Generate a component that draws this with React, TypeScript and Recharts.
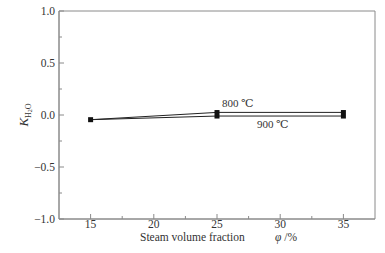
import React from 'react';
import { LineChart, Line, XAxis, YAxis, ReferenceArea } from 'recharts';

const fractions = [15, 25, 35];
const k800 = [-0.045, 0.025, 0.025];
const k900 = [-0.045, -0.01, -0.01];
const xTicks = [15, 17.5, 20, 22.5, 25, 27.5, 30, 32.5, 35];
const yTicks = [-1, -0.75, -0.5, -0.25, 0, 0.25, 0.5, 0.75, 1];

const data = fractions.map((f, i) => ({ f, k800: k800[i], k900: k900[i] }));

const FONT = "'Liberation Serif', 'DejaVu Serif', serif";
const AXIS = '#8a8a8a';
const TEXT = '#333';
const txtStyle = { fontFamily: FONT, fontSize: 11.5, fill: TEXT };

// axis sits at y = 219 (bottom of plot)
const XTick = (props: any) => {
  const { x, payload } = props;
  const y = 219;
  const major = payload.value % 5 === 0;
  return (
    <g>
      <line x1={x} x2={x} y1={y} y2={y - (major ? 5 : 3)} stroke={AXIS} />
      {major && (
        <text x={x} y={y + 9} textAnchor="middle" style={txtStyle}>
          {payload.value}
        </text>
      )}
    </g>
  );
};

const YTick = (props: any) => {
  const { y, payload } = props;
  const x = 59;
  const v = payload.value;
  const major = Math.abs(v * 2 - Math.round(v * 2)) < 1e-6;
  const txt = v < 0 ? '\u2212' + Math.abs(v).toFixed(1) : v.toFixed(1);
  return (
    <g>
      <line x1={x} x2={x + (major ? 5 : 3)} y1={y} y2={y} stroke={AXIS} />
      {major && (
        <text x={x - 4} y={y + 4} textAnchor="end" style={txtStyle}>
          {txt}
        </text>
      )}
    </g>
  );
};

const seriesLabel = (text: string, dy: number, dx: number) => (props: any) => {
  const { x, y, index } = props;
  if (index !== 1) return null;
  return (
    <text x={x + dx} y={y + dy} style={{ ...txtStyle, fontSize: 11 }}>
      {text}
    </text>
  );
};

const YLabel = () => (
  <text x={0} y={0} transform="translate(28,115) rotate(-90)" textAnchor="middle" style={txtStyle}>
    <tspan fontStyle="italic" fontSize={13}>K</tspan>
    <tspan fontSize={8} dy={3}>H</tspan>
    <tspan fontSize={6} dy={1}>2</tspan>
    <tspan fontSize={8} dy={-1}>O</tspan>
  </text>
);

const XLabel = () => (
  <text y={241} style={txtStyle}>
    <tspan x={140}>Steam volume fraction</tspan>
    <tspan x={275} fontStyle="italic">{'\u03c6'}</tspan>
    <tspan> /%</tspan>
  </text>
);

export default function App() {
  return (
    <div style={{ position: 'fixed', left: 0, top: 0, background: '#fff' }}>
      <LineChart width={385} height={253} data={data} margin={{ top: 11, right: 10, bottom: 0, left: 19 }}>
        <XAxis
          dataKey="f"
          type="number"
          domain={[12.5, 37.5]}
          ticks={xTicks}
          interval={0}
          height={34}
          tickSize={0}
          tickMargin={0}
          axisLine={{ stroke: AXIS }}
          tickLine={false}
          tick={<XTick />}
          label={{ content: () => <XLabel /> }}
        />
        <YAxis
          type="number"
          domain={[-1, 1]}
          ticks={yTicks}
          interval={0}
          width={40}
          tickSize={0}
          tickMargin={0}
          axisLine={{ stroke: AXIS }}
          tickLine={false}
          tick={<YTick />}
          label={{ content: () => <YLabel /> }}
        />
        <ReferenceArea x1={12.5} x2={37.5} y1={-1} y2={1} stroke={AXIS} fill="none" ifOverflow="visible" />
        <Line
          dataKey="k800"
          stroke="#222"
          strokeWidth={1}
          isAnimationActive={false}
          dot={{ r: 0 }}
          label={seriesLabel('800 \u2103', -5, 5)}
        />
        <Line
          dataKey="k900"
          stroke="#222"
          strokeWidth={1}
          isAnimationActive={false}
          dot={(p: any) => (
            <rect key={p.index} x={p.cx - 2.5} y={p.cy - 2.5 - (p.index === 0 ? 0 : 3.5)} width={5} height={p.index === 0 ? 5 : 8.5} fill="#111" />
          )}
          label={seriesLabel('900 \u2103', 12, 40)}
        />
      </LineChart>
    </div>
  );
}
